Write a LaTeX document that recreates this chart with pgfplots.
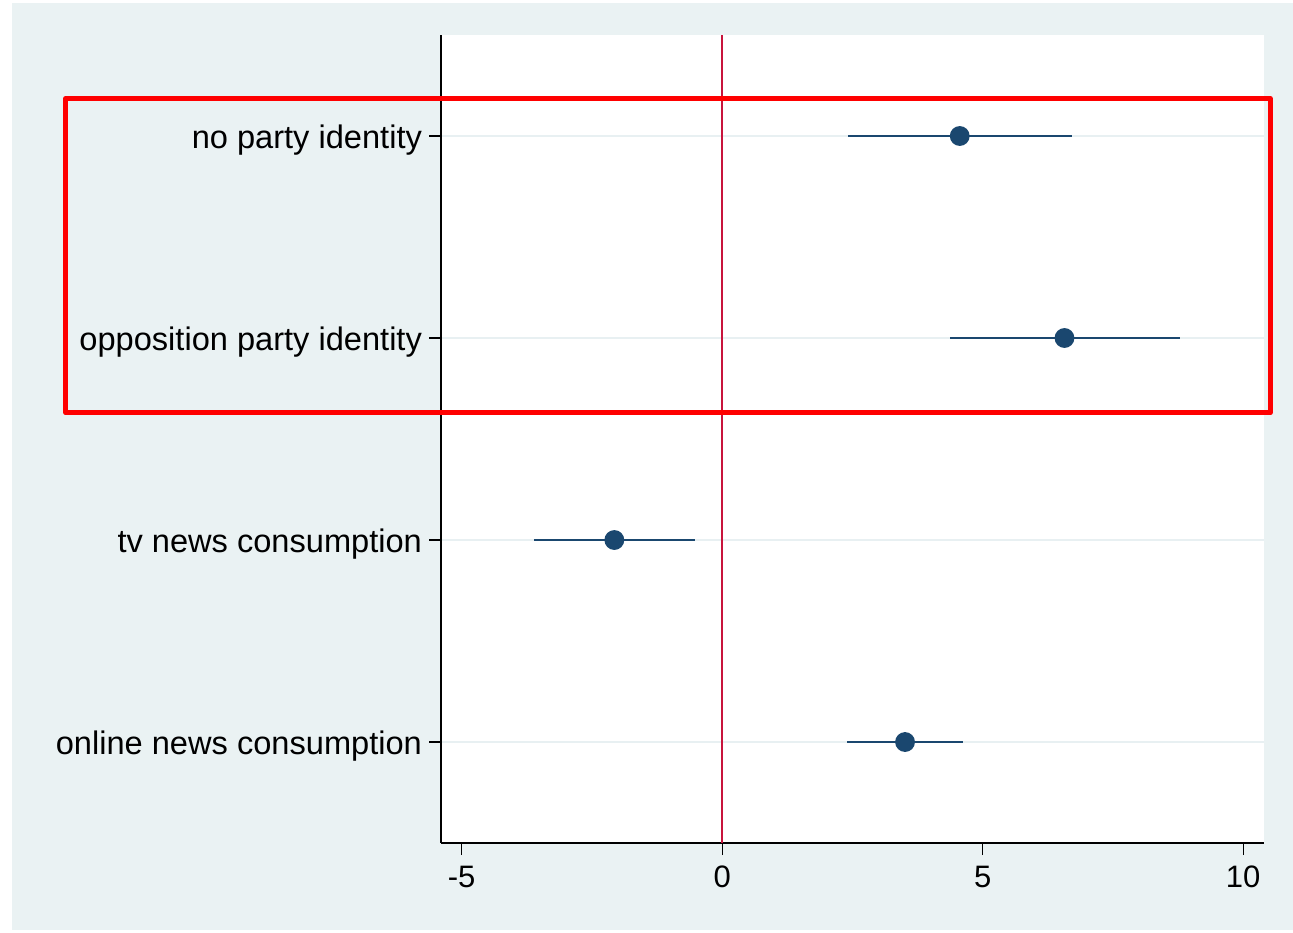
\documentclass[border=0pt]{standalone}
\usepackage{fontspec}
\setmainfont{Liberation Sans}
\usepackage{pgfplots}
\pgfplotsset{compat=1.18}
\definecolor{bgpanel}{HTML}{EAF2F3}
\definecolor{gridc}{HTML}{E8F0F2}
\definecolor{navy}{HTML}{1A476F}
\definecolor{zeroline}{HTML}{C8143C}
\begin{document}
\begin{tikzpicture}
\useasboundingbox (0pt,0pt) rectangle (646.5pt,466pt);
\fill[white] (0pt,0pt) rectangle (646.5pt,466pt);
\fill[bgpanel] (6pt,1pt) rectangle (646.5pt,464.5pt);
\begin{axis}[
  at={(220.5pt,44.5pt)}, anchor=south west,
  scale only axis,
  width=411.5pt, height=404pt,
  xmin=-5.397, xmax=10.40,
  ymin=0.5, ymax=4.5,
  y dir=reverse,
  axis background/.style={fill=white},
  axis x line*=bottom, axis y line*=left,
  axis line style={black, line width=0.6pt},
  xtick={-5,0,5,10},
  ytick={1,2,3,4},
  yticklabels={no party identity, opposition party identity, tv news consumption, online news consumption},
  tick style={black, line width=0.6pt},
  major tick length=6pt,
  tick align=outside,
  ymajorgrids,
  major grid style={gridc, line width=1pt},
  xticklabel style={yshift=-2pt, font=\fontsize{15.5}{18}\selectfont},
  yticklabel style={yshift=-2pt, font=\fontsize{16.3}{19}\selectfont},
  /pgf/number format/assume math mode=true,
  clip=false,
]
\addplot[zeroline, line width=0.7pt] coordinates {(0,0.5) (0,4.5)};
\addplot[navy, only marks, mark=*, mark size=4.25pt, line width=1.4pt,
  error bars/.cd, x dir=both, x explicit, error mark=none,
  error bar style={navy, line width=1.4pt}]
  table[x=est, y=pos, x error plus=ep, x error minus=em] {
  pos est ep em
  1 4.56 2.16 2.15
  2 6.57 2.22 2.20
  3 -2.07 1.55 1.55
  4 3.51 1.11 1.12
};
\draw[red, line width=2.5pt, line join=round] (axis cs:-12.596,0.814) rectangle (axis cs:10.517,2.371);
\end{axis}
\end{tikzpicture}
\end{document}
